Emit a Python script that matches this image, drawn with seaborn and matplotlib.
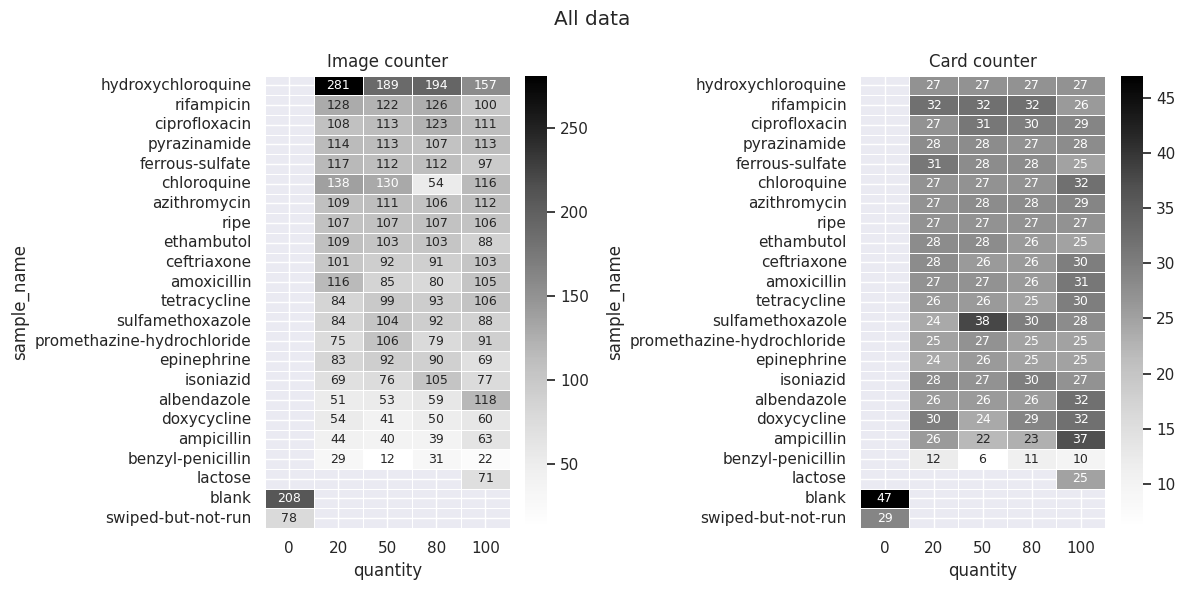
import numpy as np
import pandas as pd
import matplotlib
matplotlib.use("Agg")
import matplotlib.pyplot as plt
import seaborn as sns

samples = ["hydroxychloroquine","rifampicin","ciprofloxacin","pyrazinamide","ferrous-sulfate","chloroquine","azithromycin","ripe","ethambutol","ceftriaxone","amoxicillin","tetracycline","sulfamethoxazole","promethazine-hydrochloride","epinephrine","isoniazid","albendazole","doxycycline","ampicillin","benzyl-penicillin","lactose","blank","swiped-but-not-run"]
quantities = [0, 20, 50, 80, 100]
n = np.nan
image_0 = [n]*21 + [208, 78]
image_20 = [281,128,108,114,117,138,109,107,109,101,116,84,84,75,83,69,51,54,44,29,n,n,n]
image_50 = [189,122,113,113,112,130,111,107,103,92,85,99,104,106,92,76,53,41,40,12,n,n,n]
image_80 = [194,126,123,107,112,54,106,107,103,91,80,93,92,79,90,105,59,50,39,31,n,n,n]
image_100 = [157,100,111,113,97,116,112,106,88,103,105,106,88,91,69,77,118,60,63,22,71,n,n]
card_0 = [n]*21 + [47, 29]
card_20 = [27,32,27,28,31,27,27,27,28,28,27,26,24,25,24,28,26,30,26,12,n,n,n]
card_50 = [27,32,31,28,28,27,28,27,28,26,27,26,38,27,26,27,26,24,22,6,n,n,n]
card_80 = [27,32,30,27,28,27,28,27,26,26,26,25,30,25,25,30,26,29,23,11,n,n,n]
card_100 = [27,26,29,28,25,32,29,27,25,30,31,30,28,25,25,27,32,32,37,10,25,n,n]

def frame(cols):
    df = pd.DataFrame(np.array(cols, dtype=float).T, index=samples, columns=quantities)
    df.index.name = "sample_name"
    df.columns.name = "quantity"
    return df

W, H = 1185, 590
def rect(x0, x1, y0, y1):
    return [x0 / W, 1 - y1 / H, (x1 - x0) / W, (y1 - y0) / H]

sns.set_theme()
fig = plt.figure(figsize=(W / 100, H / 100), dpi=100)
panels = [
    ([image_0,image_20,image_50,image_80,image_100], "Image counter", (264.5, 510), (525, 547)),
    ([card_0,card_20,card_50,card_80,card_100], "Card counter", (860, 1105), (1121, 1143)),
]
for cols, title, (a0, a1), (c0, c1) in panels:
    ax = fig.add_axes(rect(a0, a1, 75.6, 528))
    cax = fig.add_axes(rect(c0, c1, 75.6, 528))
    sns.heatmap(frame(cols), ax=ax, cbar_ax=cax, cmap="Greys", annot=True, fmt=".0f", linewidths=0.5, annot_kws={"fontsize":9})
    ax.set_title(title)
    ax.tick_params(axis="y", rotation=0)
fig.suptitle("All data", y=0.983)
fig.savefig("out.png", dpi=100)
